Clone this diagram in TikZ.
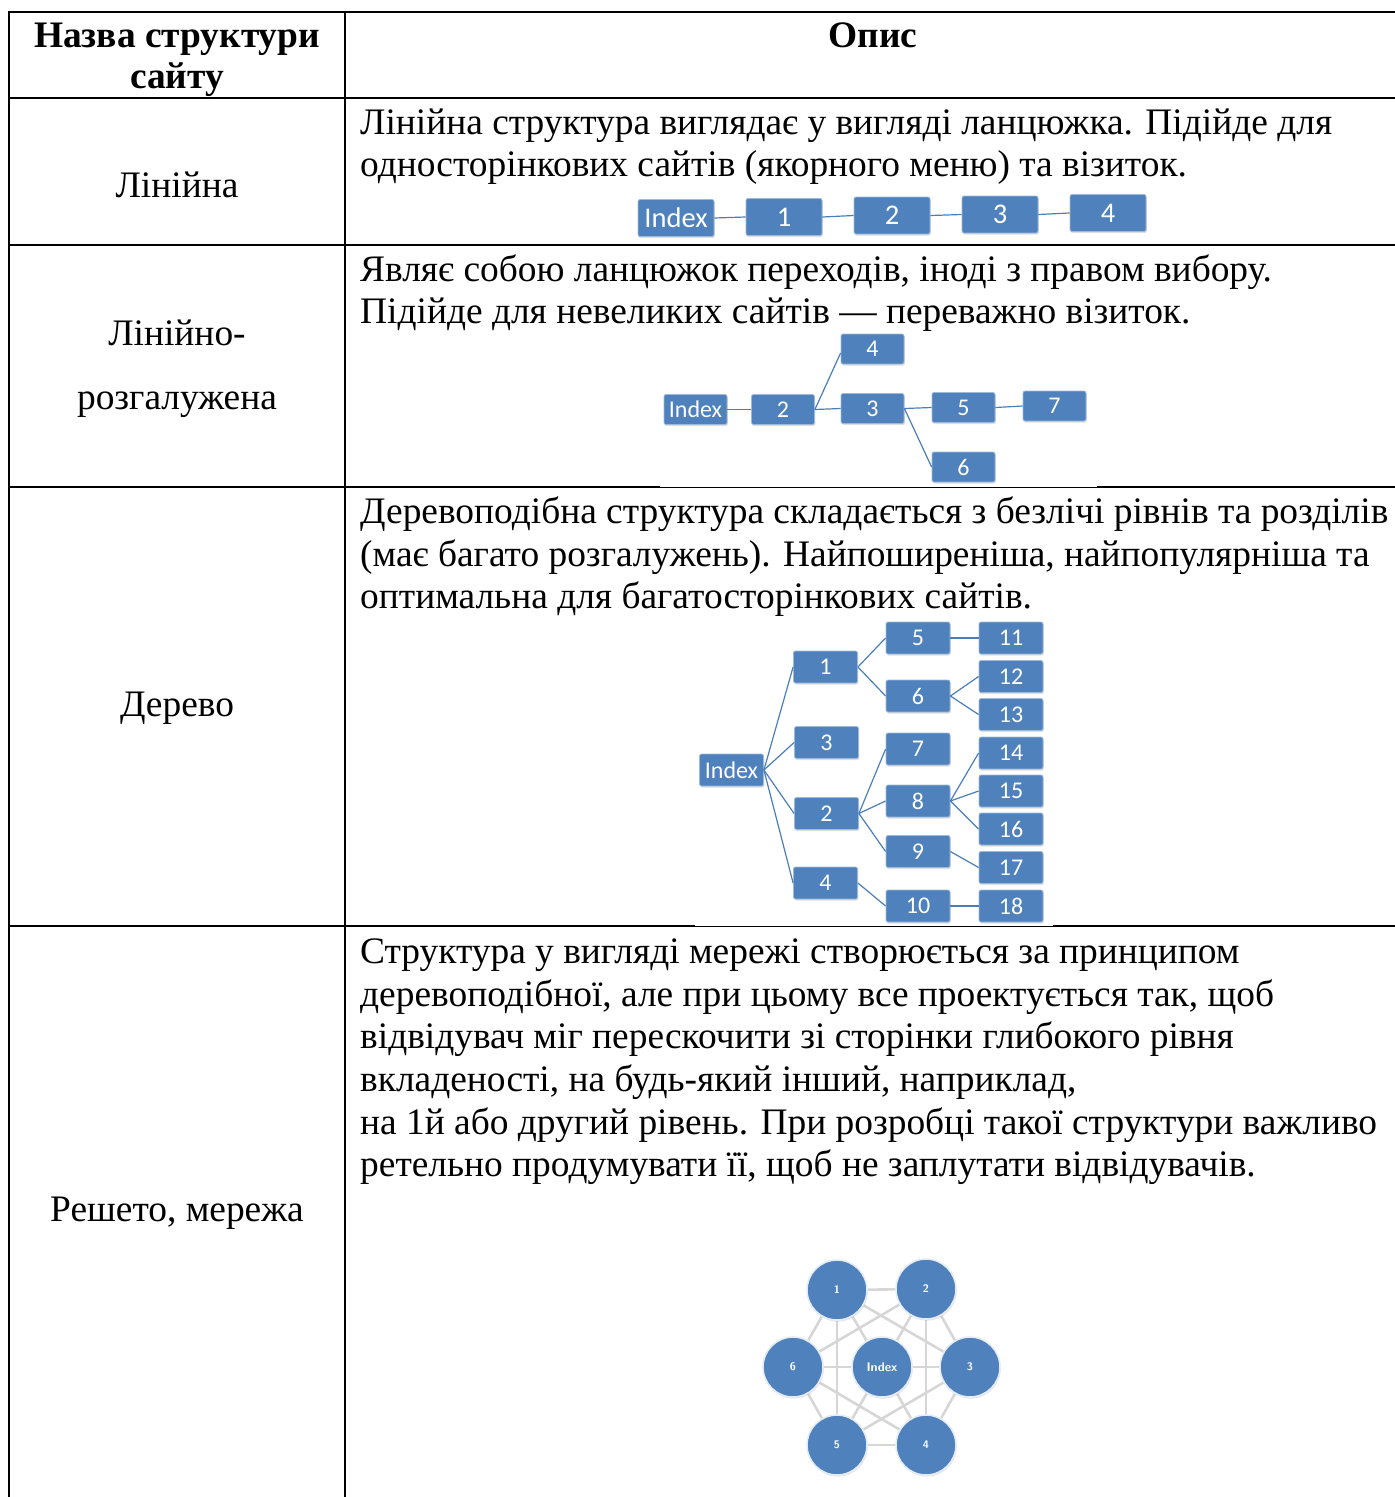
\documentclass[tikz,border=0pt]{standalone}
\usepackage{fontspec}
\setmainfont{Liberation Serif}
\newfontfamily\calib{Carlito}
\usetikzlibrary{shadows,backgrounds}
\definecolor{boxblue}{HTML}{4F81BD}
\definecolor{lnblue}{HTML}{4A7EBB}
\definecolor{meshgray}{HTML}{D6D6D6}
\tikzset{
  tl/.style={line width=2.4pt},
  tlthin/.style={line width=0.9pt},
  txt/.style={anchor=base west, inner sep=0pt, font=\fontsize{37.4}{43}\selectfont},
  ctxt/.style={anchor=base, inner sep=0pt, font=\fontsize{37.4}{43}\selectfont},
  htxt/.style={anchor=base, inner sep=0pt, font=\bfseries\fontsize{37.4}{43}\selectfont},
  blkbase/.style={rectangle, rounded corners=2pt, fill=boxblue, draw=boxblue!55!white,
    line width=0.8pt, text=white, inner sep=0pt,
    drop shadow={shadow xshift=0.8pt, shadow yshift=-1.6pt, opacity=0.25}},
  linbox/.style={blkbase, minimum width=76pt, minimum height=37pt, font=\calib\fontsize{28.5}{28.5}\selectfont},
  brbox/.style={blkbase, minimum width=63pt, minimum height=30pt, font=\calib\fontsize{24}{24}\selectfont},
  trbox/.style={blkbase, minimum width=64pt, minimum height=32pt, font=\calib\fontsize{24}{24}\selectfont},
  conn/.style={draw=lnblue, line width=1.2pt},
  mcirc/.style={circle, minimum size=60pt, inner sep=0pt, fill=boxblue, draw=white!85!boxblue,
    line width=1.6pt, text=white, font=\sffamily\bfseries\fontsize{11}{11}\selectfont,
    drop shadow={shadow xshift=0.8pt, shadow yshift=-1.6pt, opacity=0.2}},
  medge/.style={draw=meshgray, line width=2.6pt}
}
\begin{document}
\begin{tikzpicture}[x=1pt,y=-1pt]
\useasboundingbox (0,0) rectangle (1395,1497);

% ---- table grid ----
\draw[tl] (9,12) -- (1395,12);
\draw[tl] (9,98) -- (1395,98);
\draw[tl] (9,245) -- (1395,245);
\draw[tl] (9,487) -- (660,487);
\draw[tlthin] (660,487.6) -- (1097,487.6);
\draw[tl] (1097,487) -- (1395,487);
\draw[tl] (9,926) -- (695,926);
\draw[tlthin] (695,926.6) -- (1053,926.6);
\draw[tl] (1053,926) -- (1395,926);
\draw[tl] (9,10.8) -- (9,1497);
\draw[tl] (345,10.8) -- (345,1497);

% ---- header ----
\node[htxt] (h1a) at (177,47) {Назва структури};
\node[htxt] (h1b) at (177,88) {сайту};
\node[htxt] (h2) at (873,47) {Опис};

% ---- row: linear ----
\node[ctxt] (n1) at (177,197) {Лінійна};
\node[txt] (d1a) at (360,134) {Лінійна структура виглядає у вигляді ланцюжка. Підійде для};
\node[txt] (d1b) at (360,176) {односторінкових сайтів (якорного меню) та візиток.};

\node[linbox] (L0) at (676,218) {Index};
\node[linbox] (L1) at (784,217) {1};
\node[linbox] (L2) at (892,215.5) {2};
\node[linbox] (L3) at (1000,214.5) {3};
\node[linbox] (L4) at (1108,213) {4};
\draw[conn] (L0.east) -- (L1.west);
\draw[conn] (L1.east) -- (L2.west);
\draw[conn] (L2.east) -- (L3.west);
\draw[conn] (L3.east) -- (L4.west);

% ---- row: linear-branched ----
\node[ctxt] (n2a) at (177,345) {Лінійно-};
\node[ctxt] (n2b) at (177,409) {розгалужена};
\node[txt] (d2a) at (360,281) {Являє собою ланцюжок переходів, іноді з правом вибору.};
\node[txt] (d2b) at (360,323) {Підійде для невеликих сайтів — переважно візиток.};

\node[brbox] (B0) at (695.5,409.5) {Index};
\node[brbox] (B2) at (783,409.5) {2};
\node[brbox] (B4) at (872.5,349) {4};
\node[brbox] (B3) at (872.5,408.5) {3};
\node[brbox] (B5) at (963.5,407.5) {5};
\node[brbox] (B7) at (1054.5,406) {7};
\node[brbox] (B6) at (963.5,467) {6};
\draw[conn] (B0.east) -- (B2.west);
\draw[conn] (B2.east) -- (B3.west);
\draw[conn] (B2.east) -- ([yshift=-4pt]B4.west);
\draw[conn] (B3.east) -- (B5.west);
\draw[conn] (B3.east) -- (B6.west);
\draw[conn] (B5.east) -- (B7.west);

% ---- row: tree ----
\node[ctxt] (n3) at (177,716) {Дерево};
\node[txt] (d3a) at (360,523) {Деревоподібна структура складається з безлічі рівнів та розділів};
\node[txt] (d3b) at (360,566) {(має багато розгалужень). Найпоширеніша, найпопулярніша та};
\node[txt] (d3c) at (360,608) {оптимальна для багатосторінкових сайтів.};

\node[trbox] (T0) at (731.5,770) {Index};
\node[trbox] (T1) at (825.5,667) {1};
\node[trbox] (T3) at (826.5,742.5) {3};
\node[trbox] (T2) at (826.5,813.5) {2};
\node[trbox] (T4) at (825.5,883) {4};
\node[trbox] (T5) at (918,638) {5};
\node[trbox] (T6) at (918,696) {6};
\node[trbox] (T7) at (918,749) {7};
\node[trbox] (T8) at (918,801) {8};
\node[trbox] (T9) at (918,851.5) {9};
\node[trbox] (T10) at (918,906) {10};
\node[trbox] (T11) at (1011,638) {11};
\node[trbox] (T12) at (1011,676.5) {12};
\node[trbox] (T13) at (1011,714.5) {13};
\node[trbox] (T14) at (1011,753) {14};
\node[trbox] (T15) at (1011,791) {15};
\node[trbox] (T16) at (1011,829) {16};
\node[trbox] (T17) at (1011,867.5) {17};
\node[trbox] (T18) at (1011,906) {18};
\foreach \c in {T1,T3,T2,T4} \draw[conn] (T0.east) -- (\c.west);
\foreach \c in {T5,T6} \draw[conn] (T1.east) -- (\c.west);
\foreach \c in {T7,T8,T9} \draw[conn] (T2.east) -- (\c.west);
\draw[conn] (T4.east) -- (T10.west);
\draw[conn] (T5.east) -- (T11.west);
\foreach \c in {T12,T13} \draw[conn] (T6.east) -- (\c.west);
\foreach \c in {T14,T15,T16} \draw[conn] (T8.east) -- (\c.west);
\draw[conn] (T9.east) -- (T17.west);
\draw[conn] (T10.east) -- (T18.west);

% ---- row: mesh ----
\node[ctxt] (n4) at (177,1221) {Решето, мережа};
\node[txt] (d4a) at (360,963) {Структура у вигляді мережі створюється за принципом};
\node[txt] (d4b) at (360,1006) {деревоподібної, але при цьому все проектується так, щоб};
\node[txt] (d4c) at (360,1048) {відвідувач міг перескочити зі сторінки глибокого рівня};
\node[txt] (d4d) at (360,1091) {вкладеності, на будь-який інший, наприклад,};
\node[txt] (d4e) at (360,1134) {на 1й або другий рівень. При розробці такої структури важливо};
\node[txt] (d4f) at (360,1176) {ретельно продумувати її, щоб не заплутати відвідувачів.};

\node[mcirc] (M1) at (837,1290) {1};
\node[mcirc] (M2) at (926,1289) {2};
\node[mcirc] (M6) at (793,1367) {6};
\node[mcirc, font=\sffamily\bfseries\fontsize{12.5}{12.5}\selectfont] (MI) at (882,1367) {Index};
\node[mcirc] (M3) at (970,1367) {3};
\node[mcirc] (M5) at (837,1445) {5};
\node[mcirc] (M4) at (926,1445) {4};
\begin{scope}[on background layer]
\foreach \a/\b in {M1/M2,M2/M3,M3/M4,M4/M5,M5/M6,M6/M1,
                   M1/MI,M2/MI,M3/MI,M4/MI,M5/MI,M6/MI,
                   M1/M3,M2/M6,M6/M4,M3/M5,M1/M5,M2/M4}
  \draw[medge] (\a) -- (\b);
\end{scope}
\end{tikzpicture}
\end{document}
